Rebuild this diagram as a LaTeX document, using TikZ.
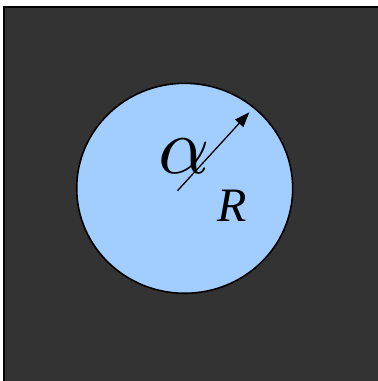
\documentclass[tikz,border=0pt]{standalone}
\usepackage{fontspec}
\usepackage{graphicx}
\setmainfont{Liberation Serif}
\usetikzlibrary{arrows.meta,shapes.geometric}
\definecolor{darkbg}{HTML}{333333}
\definecolor{discblue}{HTML}{A2CEFF}
\tikzset{
  bgbox/.style={fill=darkbg, draw=black, line width=2.5pt},
  disc/.style={fill=discblue, draw=black, line width=1.6pt},
  radius arrow/.style={draw=black, line width=1.3pt, -{Triangle[length=15pt,width=11pt]}},
  bigletter/.style={inner sep=0pt}
}
\begin{document}
\begin{tikzpicture}[x=1pt,y=1pt]
\useasboundingbox (0,0) rectangle (378,381);
\path[bgbox] (4,374) -- (4,-5) -- (385,-5) -- (385,374) -- cycle;
\node[disc, ellipse, minimum width=216pt, minimum height=210pt, inner sep=0pt] (disc) at (184.7,192.7) {};
\coordinate (c) at (177.5,190.3);
\coordinate (tip) at (249.3,268.7);
\draw[radius arrow] (c) -- (tip);
\node[bigletter] (alpha) at (184,225) {\scalebox{8}{$\alpha$}};
\node[bigletter, font=\itshape\fontsize{48}{48}\selectfont] (R) at (232.5,175) {R};
\end{tikzpicture}
\end{document}
